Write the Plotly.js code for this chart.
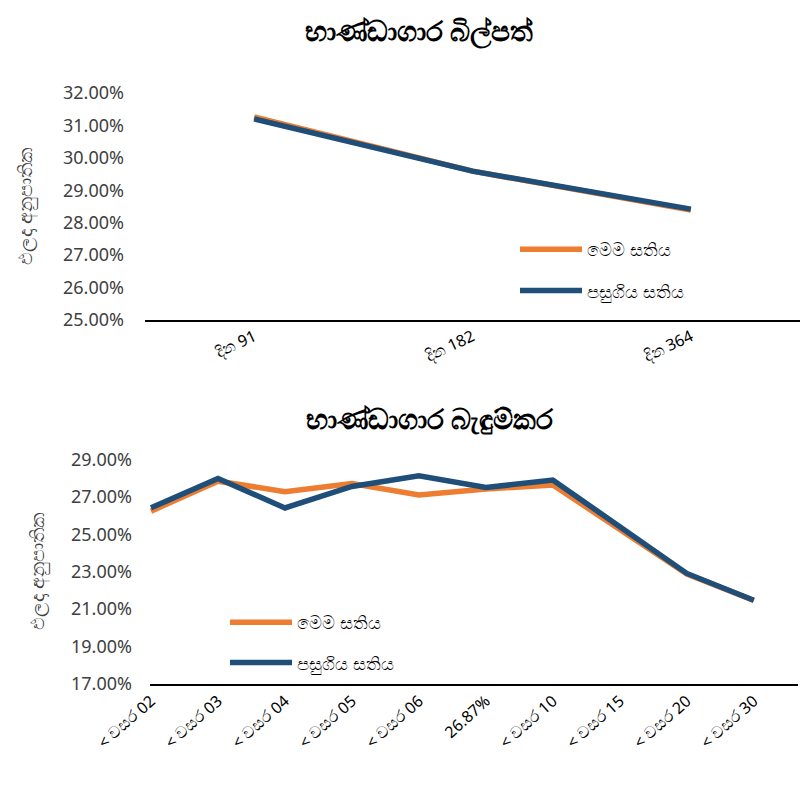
<!DOCTYPE html>
<html>
<head>
<meta charset="utf-8">
<script src="https://cdn.plot.ly/plotly-3.0.1.min.js"></script>
<style>html,body{margin:0;padding:0;background:#fff;}#chart{width:803px;height:787px;}</style>
</head>
<body>
<div id="chart"></div>
<script>
// ---- data ----
var billCategories = ['දින 91', 'දින 182', 'දින 364'];
var billThisWeek = [31.26, 29.59, 28.39];
var billLastWeek = [31.20, 29.59, 28.42];

var bondCategories = ['< වසර 02', '< වසර 03', '< වසර 04', '< වසර 05', '< වසර 06', '26.87%', '< වසර 10', '< වසර 15', '< වසර 20', '< වසර 30'];
var bondThisWeek = [26.24, 27.84, 27.28, 27.72, 27.10, 27.42, 27.64, 25.30, 22.88, 21.46];
var bondLastWeek = [26.42, 27.99, 26.41, 27.56, 28.13, 27.50, 27.90, 25.40, 22.91, 21.48];

var seriesNames = ['මෙම සතිය', 'පසුගිය සතිය'];
var billTitle = 'භාණ්ඩාගාර බිල්පත්';
var bondTitle = 'භාණ්ඩාගාර බැඳුම්කර';
var yTitle = 'ඵලදා අනුපාතික';

var orange = '#ED7D31';
var blue = '#1F4E79';
var W = 803, H = 787;
var FONT = 'Noto Sans, DejaVu Sans, sans-serif';

function px(x) { return x / W; }
function py(y) { return 1 - y / H; }

var traces = [
  {x: billCategories, y: billThisWeek, name: seriesNames[0], type: 'scatter', mode: 'lines',
   line: {color: orange, width: 5.5}, xaxis: 'x', yaxis: 'y', legend: 'legend', legendgroup: 'a'},
  {x: billCategories, y: billLastWeek, name: seriesNames[1], type: 'scatter', mode: 'lines',
   line: {color: blue, width: 5.5}, xaxis: 'x', yaxis: 'y', legend: 'legend', legendgroup: 'b'},
  {x: bondCategories, y: bondThisWeek, name: seriesNames[0], type: 'scatter', mode: 'lines',
   line: {color: orange, width: 5.5}, xaxis: 'x2', yaxis: 'y2', legend: 'legend2', legendgroup: 'c'},
  {x: bondCategories, y: bondLastWeek, name: seriesNames[1], type: 'scatter', mode: 'lines',
   line: {color: blue, width: 5.5}, xaxis: 'x2', yaxis: 'y2', legend: 'legend2', legendgroup: 'd'}
];

var tickFont = {family: FONT, size: 18, color: '#404040'};

var layout = {
  width: W, height: H,
  margin: {l: 0, r: 0, t: 0, b: 0},
  paper_bgcolor: '#ffffff', plot_bgcolor: '#ffffff',
  showlegend: true,
  xaxis: {
    type: 'category', domain: [px(145), px(800)], range: [-0.5, 2.5],
    showline: true, linecolor: '#000000', linewidth: 1.5, showgrid: false, zeroline: false,
    ticks: '', tickangle: -25, tickfont: {family: FONT, size: 16, color: '#000000'}, anchor: 'y', automargin: false
  },
  yaxis: {
    domain: [py(320), py(93)], range: [25, 32], dtick: 1, tick0: 25,
    tickformat: '.2f', ticksuffix: '%', showgrid: false, zeroline: false, showline: false,
    ticks: '', ticklabelstandoff: 20, tickfont: tickFont, anchor: 'x', automargin: false,
    title: {text: yTitle, font: {family: FONT, size: 19, color: '#404040'}, standoff: 25}
  },
  xaxis2: {
    type: 'category', domain: [px(150), px(798)], range: [-0.015, 9.66],
    showline: true, linecolor: '#000000', linewidth: 1.5, showgrid: false, zeroline: false,
    ticks: '', tickangle: -42, tickfont: {family: FONT, size: 16, color: '#000000'}, anchor: 'y2', automargin: false
  },
  yaxis2: {
    domain: [py(684), py(459.5)], range: [17, 29], dtick: 2, tick0: 17,
    tickformat: '.2f', ticksuffix: '%', showgrid: false, zeroline: false, showline: false,
    ticks: '', ticklabelstandoff: 17, tickfont: tickFont, anchor: 'x2', automargin: false,
    title: {text: yTitle, font: {family: FONT, size: 19, color: '#404040'}, standoff: 21}
  },
  legend: {
    x: px(515), y: py(231), xanchor: 'left', yanchor: 'top',
    font: {family: FONT, size: 18, color: '#000000'}, bgcolor: 'rgba(0,0,0,0)',
    traceorder: 'grouped', tracegroupgap: 15, itemwidth: 62
  },
  legend2: {
    x: px(225), y: py(604), xanchor: 'left', yanchor: 'top',
    font: {family: FONT, size: 18, color: '#000000'}, bgcolor: 'rgba(0,0,0,0)',
    traceorder: 'grouped', tracegroupgap: 14, itemwidth: 62
  },
  annotations: [
    {text: '<b>' + billTitle + '</b>', xref: 'paper', yref: 'paper', x: px(419), y: py(30),
     xanchor: 'center', yanchor: 'middle', showarrow: false, font: {family: FONT, size: 28, color: '#000000'}},
    {text: '<b>' + bondTitle + '</b>', xref: 'paper', yref: 'paper', x: px(430), y: py(418),
     xanchor: 'center', yanchor: 'middle', showarrow: false, font: {family: FONT, size: 28, color: '#000000'}}
  ]
};

Plotly.newPlot('chart', traces, layout, {displayModeBar: false, staticPlot: true});
</script>
</body>
</html>
